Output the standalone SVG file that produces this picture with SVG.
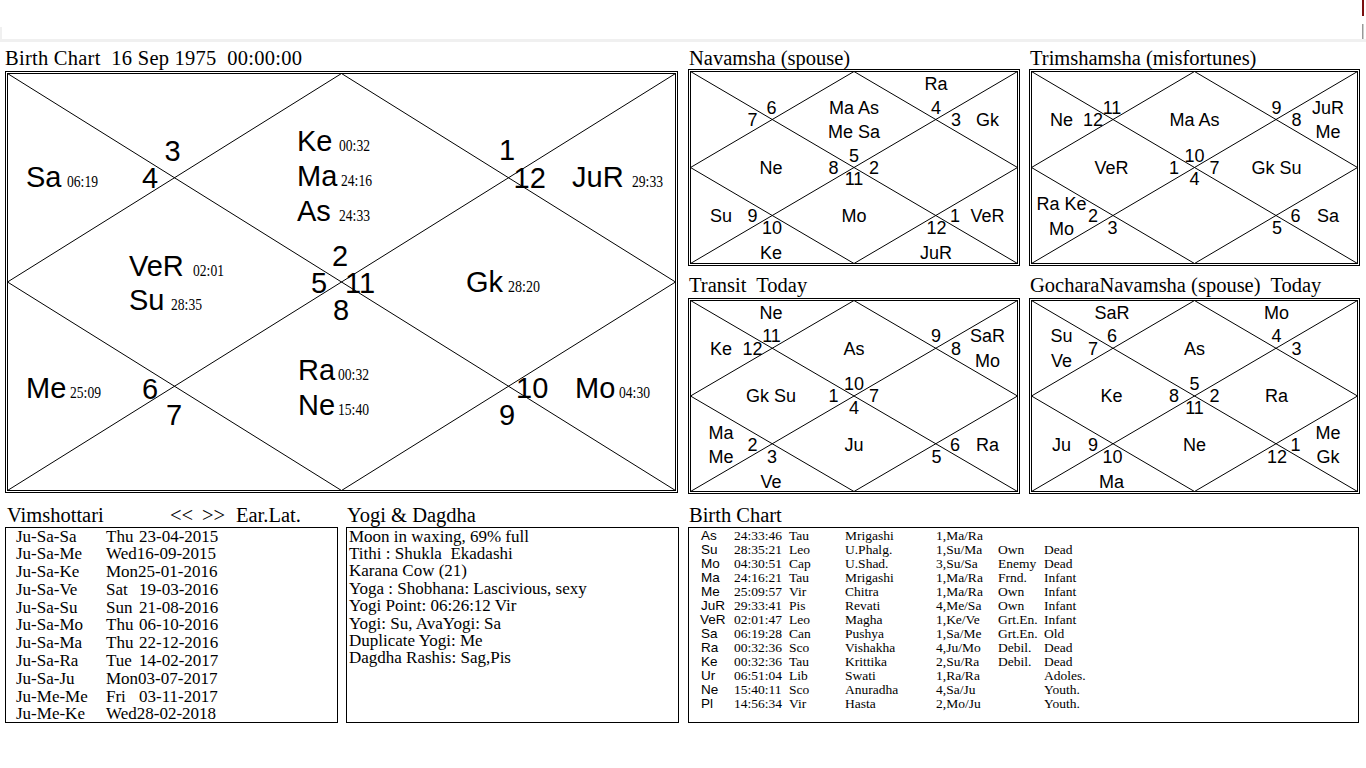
<svg xmlns="http://www.w3.org/2000/svg" width="1366" height="768" viewBox="0 0 1366 768">
<style>
.ttl{font-family:"Liberation Serif","Times New Roman",serif;font-size:20.5px;fill:#000;white-space:pre}
.big{font-family:"Liberation Sans",Arial,sans-serif;font-size:29px;fill:#000}
.deg{font-family:"Liberation Serif","Times New Roman",serif;font-size:17px;fill:#000}
.sm{font-family:"Liberation Sans",Arial,sans-serif;font-size:18px;fill:#000;text-anchor:middle}
.row{font-family:"Liberation Serif","Times New Roman",serif;font-size:17px;fill:#000;white-space:pre}
.tb{font-family:"Liberation Serif","Times New Roman",serif;font-size:13.5px;fill:#000}
.tbs{font-family:"Liberation Sans",Arial,sans-serif;font-size:13.5px;fill:#000}
.ln{stroke:#000;stroke-width:1;fill:none}
.box{stroke:#000;stroke-width:1;fill:none}
</style>
<rect x="0" y="0" width="1366" height="768" fill="#fff"/>
<g id="topbar">
<rect x="0" y="39" width="1366" height="3" fill="#f0f0f0"/>
<rect x="0" y="27" width="2" height="12" fill="#f0f0f0"/>
<rect x="1362" y="0" width="2" height="16" fill="#7a1010"/>
<rect x="1362" y="24" width="1.5" height="15" fill="#999"/>
</g>

<!-- Titles -->
<g id="titles">
<text class="ttl" x="5" y="65" xml:space="preserve" textLength="297" lengthAdjust="spacing">Birth Chart  16 Sep 1975  00:00:00</text>
<text class="ttl" x="689" y="65">Navamsha (spouse)</text>
<text class="ttl" x="1030" y="65">Trimshamsha (misfortunes)</text>
<text class="ttl" x="689" y="292" xml:space="preserve">Transit  Today</text>
<text class="ttl" x="1030" y="292" xml:space="preserve">GocharaNavamsha (spouse)  Today</text>
<text class="ttl" x="7" y="521.5">Vimshottari</text>
<text class="ttl" x="170" y="521.5">&lt;&lt;</text>
<text class="ttl" x="202" y="521.5">&gt;&gt;</text>
<text class="ttl" x="236" y="521.5">Ear.Lat.</text>
<text class="ttl" x="347" y="521.5">Yogi &amp; Dagdha</text>
<text class="ttl" x="689" y="521.5">Birth Chart</text>
</g>

<!-- Connectors: chart frame lines -->
<g id="connectors">
<rect class="box" x="5.5" y="71.5" width="672" height="421"/>
<rect class="box" x="7.5" y="73.5" width="668" height="417"/>
<path class="ln" d="M7.5 73.5L675.5 490.5M675.5 73.5L7.5 490.5M341.5 73.5L675.5 282L341.5 490.5L7.5 282Z"/>
<rect class="box" x="688.5" y="69.5" width="331" height="196"/>
<rect class="box" x="690.5" y="71.5" width="327" height="192"/>
<path class="ln" d="M690.5 71.5L1017.5 263.5M1017.5 71.5L690.5 263.5M854 71.5L1017.5 167.5L854 263.5L690.5 167.5Z"/>
<rect class="box" x="1029.5" y="69.5" width="330" height="196"/>
<rect class="box" x="1031.5" y="71.5" width="326" height="192"/>
<path class="ln" d="M1031.5 71.5L1357.5 263.5M1357.5 71.5L1031.5 263.5M1194.5 71.5L1357.5 167.5L1194.5 263.5L1031.5 167.5Z"/>
<rect class="box" x="688.5" y="298.5" width="331" height="195"/>
<rect class="box" x="690.5" y="300.5" width="327" height="191"/>
<path class="ln" d="M690.5 300.5L1017.5 491.5M1017.5 300.5L690.5 491.5M854 300.5L1017.5 396L854 491.5L690.5 396Z"/>
<rect class="box" x="1029.5" y="298.5" width="330" height="195"/>
<rect class="box" x="1031.5" y="300.5" width="326" height="191"/>
<path class="ln" d="M1031.5 300.5L1357.5 491.5M1357.5 300.5L1031.5 491.5M1194.5 300.5L1357.5 396L1194.5 491.5L1031.5 396Z"/>
<rect class="box" x="5.5" y="527.5" width="332" height="195"/>
<rect class="box" x="346.5" y="527.5" width="332" height="195"/>
<rect class="box" x="688.5" y="527.5" width="670" height="195"/>
</g>

<!-- Main birth chart -->
<g id="main-chart">
<text class="big" x="164.5" y="161">3</text>
<text class="big" x="142" y="188">4</text>
<text class="big" x="332" y="266">2</text>
<text class="big" x="311" y="293">5</text>
<text class="big" x="345" y="293">11</text>
<text class="big" x="333" y="320">8</text>
<text class="big" x="499" y="160">1</text>
<text class="big" x="513.5" y="188">12</text>
<text class="big" x="142" y="399">6</text>
<text class="big" x="166" y="425">7</text>
<text class="big" x="516" y="398">10</text>
<text class="big" x="499" y="425">9</text>

<text class="big" x="26" y="187">Sa</text><text class="deg" x="67" y="187" textLength="31" lengthAdjust="spacingAndGlyphs">06:19</text>
<text class="big" x="297" y="151">Ke</text><text class="deg" x="339" y="151" textLength="31" lengthAdjust="spacingAndGlyphs">00:32</text>
<text class="big" x="297" y="186">Ma</text><text class="deg" x="341" y="186" textLength="31" lengthAdjust="spacingAndGlyphs">24:16</text>
<text class="big" x="297" y="221">As</text><text class="deg" x="339" y="221" textLength="31" lengthAdjust="spacingAndGlyphs">24:33</text>
<text class="big" x="572" y="187">JuR</text><text class="deg" x="632" y="187" textLength="31" lengthAdjust="spacingAndGlyphs">29:33</text>
<text class="big" x="129" y="276">VeR</text><text class="deg" x="193" y="276" textLength="31" lengthAdjust="spacingAndGlyphs">02:01</text>
<text class="big" x="129" y="310">Su</text><text class="deg" x="171" y="310" textLength="31" lengthAdjust="spacingAndGlyphs">28:35</text>
<text class="big" x="466" y="292">Gk</text><text class="deg" x="508" y="292" textLength="32" lengthAdjust="spacingAndGlyphs">28:20</text>
<text class="big" x="26" y="398">Me</text><text class="deg" x="70" y="398" textLength="31" lengthAdjust="spacingAndGlyphs">25:09</text>
<text class="big" x="298" y="380">Ra</text><text class="deg" x="338" y="380" textLength="31" lengthAdjust="spacingAndGlyphs">00:32</text>
<text class="big" x="298" y="415">Ne</text><text class="deg" x="338" y="415" textLength="31" lengthAdjust="spacingAndGlyphs">15:40</text>
<text class="big" x="575" y="398">Mo</text><text class="deg" x="619" y="398" textLength="31" lengthAdjust="spacingAndGlyphs">04:30</text>
</g>

<!-- Navamsha -->
<g id="navamsha">
<text class="sm" x="854" y="161.5">5</text>
<text class="sm" x="771.5" y="113.5">6</text>
<text class="sm" x="752.5" y="126">7</text>
<text class="sm" x="833.5" y="173.5">8</text>
<text class="sm" x="752.5" y="222">9</text>
<text class="sm" x="772" y="234">10</text>
<text class="sm" x="854" y="185">11</text>
<text class="sm" x="936.5" y="234">12</text>
<text class="sm" x="955" y="222">1</text>
<text class="sm" x="874" y="173.5">2</text>
<text class="sm" x="956" y="126">3</text>
<text class="sm" x="936" y="113.5">4</text>
<text class="sm" x="854" y="113.5">Ma As</text>
<text class="sm" x="854" y="138">Me Sa</text>
<text class="sm" x="771" y="173.5">Ne</text>
<text class="sm" x="721" y="222">Su</text>
<text class="sm" x="771" y="259">Ke</text>
<text class="sm" x="854" y="222">Mo</text>
<text class="sm" x="936" y="259">JuR</text>
<text class="sm" x="987.5" y="222">VeR</text>
<text class="sm" x="987.5" y="126">Gk</text>
<text class="sm" x="936" y="90">Ra</text>
</g>

<!-- Trimshamsha -->
<g id="trimshamsha">
<text class="sm" x="1194.5" y="161.5">10</text>
<text class="sm" x="1112" y="113.5">11</text>
<text class="sm" x="1093" y="126">12</text>
<text class="sm" x="1174" y="173.5">1</text>
<text class="sm" x="1093" y="222">2</text>
<text class="sm" x="1112.5" y="234">3</text>
<text class="sm" x="1194.5" y="185">4</text>
<text class="sm" x="1277" y="234">5</text>
<text class="sm" x="1295.5" y="222">6</text>
<text class="sm" x="1214.5" y="173.5">7</text>
<text class="sm" x="1296.5" y="126">8</text>
<text class="sm" x="1276.5" y="113.5">9</text>
<text class="sm" x="1194.5" y="126">Ma As</text>
<text class="sm" x="1061.5" y="126">Ne</text>
<text class="sm" x="1111.5" y="173.5">VeR</text>
<text class="sm" x="1061.5" y="210">Ra Ke</text>
<text class="sm" x="1061.5" y="234.5">Mo</text>
<text class="sm" x="1328" y="222">Sa</text>
<text class="sm" x="1276.5" y="173.5">Gk Su</text>
<text class="sm" x="1328" y="113.5">JuR</text>
<text class="sm" x="1328" y="138">Me</text>
</g>

<!-- Transit -->
<g id="transit">
<text class="sm" x="854" y="390">10</text>
<text class="sm" x="771.5" y="342">11</text>
<text class="sm" x="752.5" y="354.5">12</text>
<text class="sm" x="833.5" y="402">1</text>
<text class="sm" x="752.5" y="450.5">2</text>
<text class="sm" x="772" y="462.5">3</text>
<text class="sm" x="854" y="413.5">4</text>
<text class="sm" x="936.5" y="462.5">5</text>
<text class="sm" x="955" y="450.5">6</text>
<text class="sm" x="874" y="402">7</text>
<text class="sm" x="956" y="354.5">8</text>
<text class="sm" x="936" y="342">9</text>
<text class="sm" x="854" y="354.5">As</text>
<text class="sm" x="771" y="318.5">Ne</text>
<text class="sm" x="721" y="354.5">Ke</text>
<text class="sm" x="771" y="402">Gk Su</text>
<text class="sm" x="721" y="438.5">Ma</text>
<text class="sm" x="721" y="463">Me</text>
<text class="sm" x="771" y="487.5">Ve</text>
<text class="sm" x="854" y="450.5">Ju</text>
<text class="sm" x="987.5" y="450.5">Ra</text>
<text class="sm" x="987.5" y="342">SaR</text>
<text class="sm" x="987.5" y="366.5">Mo</text>
</g>

<!-- GocharaNavamsha -->
<g id="gochara">
<text class="sm" x="1194.5" y="390">5</text>
<text class="sm" x="1112" y="342">6</text>
<text class="sm" x="1093" y="354.5">7</text>
<text class="sm" x="1174" y="402">8</text>
<text class="sm" x="1093" y="450.5">9</text>
<text class="sm" x="1112.5" y="462.5">10</text>
<text class="sm" x="1194.5" y="413.5">11</text>
<text class="sm" x="1277" y="462.5">12</text>
<text class="sm" x="1295.5" y="450.5">1</text>
<text class="sm" x="1214.5" y="402">2</text>
<text class="sm" x="1296.5" y="354.5">3</text>
<text class="sm" x="1276.5" y="342">4</text>
<text class="sm" x="1194.5" y="354.5">As</text>
<text class="sm" x="1112" y="318.5">SaR</text>
<text class="sm" x="1061.5" y="342">Su</text>
<text class="sm" x="1061.5" y="366.5">Ve</text>
<text class="sm" x="1111.5" y="402">Ke</text>
<text class="sm" x="1061.5" y="450.5">Ju</text>
<text class="sm" x="1111.5" y="487.5">Ma</text>
<text class="sm" x="1194.5" y="450.5">Ne</text>
<text class="sm" x="1328" y="438.5">Me</text>
<text class="sm" x="1328" y="463">Gk</text>
<text class="sm" x="1276.5" y="402">Ra</text>
<text class="sm" x="1276.5" y="318.5">Mo</text>
</g>

<!-- Vimshottari -->
<g id="vimshottari">
<text class="row" x="16" y="541.5">Ju-Sa-Sa</text><text class="row" x="106" y="541.5">Thu</text><text class="row" x="139" y="541.5">23-04-2015</text>
<text class="row" x="16" y="559.3">Ju-Sa-Me</text><text class="row" x="106" y="559.3">Wed16-09-2015</text>
<text class="row" x="16" y="577.1">Ju-Sa-Ke</text><text class="row" x="106" y="577.1">Mon25-01-2016</text>
<text class="row" x="16" y="594.8">Ju-Sa-Ve</text><text class="row" x="106" y="594.8">Sat</text><text class="row" x="139" y="594.8">19-03-2016</text>
<text class="row" x="16" y="612.6">Ju-Sa-Su</text><text class="row" x="106" y="612.6">Sun</text><text class="row" x="139" y="612.6">21-08-2016</text>
<text class="row" x="16" y="630.4">Ju-Sa-Mo</text><text class="row" x="106" y="630.4">Thu</text><text class="row" x="139" y="630.4">06-10-2016</text>
<text class="row" x="16" y="648.2">Ju-Sa-Ma</text><text class="row" x="106" y="648.2">Thu</text><text class="row" x="139" y="648.2">22-12-2016</text>
<text class="row" x="16" y="666">Ju-Sa-Ra</text><text class="row" x="106" y="666">Tue</text><text class="row" x="139" y="666">14-02-2017</text>
<text class="row" x="16" y="683.7">Ju-Sa-Ju</text><text class="row" x="106" y="683.7">Mon03-07-2017</text>
<text class="row" x="16" y="701.5">Ju-Me-Me</text><text class="row" x="106" y="701.5">Fri</text><text class="row" x="139" y="701.5">03-11-2017</text>
<text class="row" x="16" y="719.3">Ju-Me-Ke</text><text class="row" x="106" y="719.3">Wed28-02-2018</text>
</g>

<!-- Yogi & Dagdha -->
<g id="yogi">
<text class="row" x="349" y="541.5">Moon in waxing, 69% full</text>
<text class="row" x="349" y="558.9" xml:space="preserve">Tithi : Shukla  Ekadashi</text>
<text class="row" x="349" y="576.3">Karana Cow (21)</text>
<text class="row" x="349" y="593.7">Yoga : Shobhana: Lascivious, sexy</text>
<text class="row" x="349" y="611.1">Yogi Point: 06:26:12 Vir</text>
<text class="row" x="349" y="628.5">Yogi: Su, AvaYogi: Sa</text>
<text class="row" x="349" y="645.9">Duplicate Yogi: Me</text>
<text class="row" x="349" y="663.3">Dagdha Rashis: Sag,Pis</text>
</g>

<!-- Birth chart table -->
<g id="table">
<g class="tbs">
<text x="701" y="540">As</text>
<text x="701" y="554">Su</text>
<text x="701" y="568">Mo</text>
<text x="701" y="581.9">Ma</text>
<text x="701" y="595.9">Me</text>
<text x="701" y="609.9">JuR</text>
<text x="700" y="623.8">VeR</text>
<text x="701" y="637.8">Sa</text>
<text x="701" y="651.8">Ra</text>
<text x="701" y="665.7">Ke</text>
<text x="701" y="679.7">Ur</text>
<text x="701" y="693.7">Ne</text>
<text x="701" y="707.6">Pl</text>
</g>
<g class="tb">
<text x="734" y="540">24:33:46</text><text x="789" y="540">Tau</text><text x="845" y="540">Mrigashi</text><text x="936" y="540">1,Ma/Ra</text>
<text x="734" y="554">28:35:21</text><text x="789" y="554">Leo</text><text x="845" y="554">U.Phalg.</text><text x="936" y="554">1,Su/Ma</text><text x="998" y="554">Own</text><text x="1044" y="554">Dead</text>
<text x="734" y="568">04:30:51</text><text x="789" y="568">Cap</text><text x="845" y="568">U.Shad.</text><text x="936" y="568">3,Su/Sa</text><text x="998" y="568">Enemy</text><text x="1044" y="568">Dead</text>
<text x="734" y="581.9">24:16:21</text><text x="789" y="581.9">Tau</text><text x="845" y="581.9">Mrigashi</text><text x="936" y="581.9">1,Ma/Ra</text><text x="998" y="581.9">Frnd.</text><text x="1044" y="581.9">Infant</text>
<text x="734" y="595.9">25:09:57</text><text x="789" y="595.9">Vir</text><text x="845" y="595.9">Chitra</text><text x="936" y="595.9">1,Ma/Ra</text><text x="998" y="595.9">Own</text><text x="1044" y="595.9">Infant</text>
<text x="734" y="609.9">29:33:41</text><text x="789" y="609.9">Pis</text><text x="845" y="609.9">Revati</text><text x="936" y="609.9">4,Me/Sa</text><text x="998" y="609.9">Own</text><text x="1044" y="609.9">Infant</text>
<text x="734" y="623.8">02:01:47</text><text x="789" y="623.8">Leo</text><text x="845" y="623.8">Magha</text><text x="936" y="623.8">1,Ke/Ve</text><text x="998" y="623.8">Grt.En.</text><text x="1044" y="623.8">Infant</text>
<text x="734" y="637.8">06:19:28</text><text x="789" y="637.8">Can</text><text x="845" y="637.8">Pushya</text><text x="936" y="637.8">1,Sa/Me</text><text x="998" y="637.8">Grt.En.</text><text x="1044" y="637.8">Old</text>
<text x="734" y="651.8">00:32:36</text><text x="789" y="651.8">Sco</text><text x="845" y="651.8">Vishakha</text><text x="936" y="651.8">4,Ju/Mo</text><text x="998" y="651.8">Debil.</text><text x="1044" y="651.8">Dead</text>
<text x="734" y="665.7">00:32:36</text><text x="789" y="665.7">Tau</text><text x="845" y="665.7">Krittika</text><text x="936" y="665.7">2,Su/Ra</text><text x="998" y="665.7">Debil.</text><text x="1044" y="665.7">Dead</text>
<text x="734" y="679.7">06:51:04</text><text x="789" y="679.7">Lib</text><text x="845" y="679.7">Swati</text><text x="936" y="679.7">1,Ra/Ra</text><text x="1044" y="679.7">Adoles.</text>
<text x="734" y="693.7">15:40:11</text><text x="789" y="693.7">Sco</text><text x="845" y="693.7">Anuradha</text><text x="936" y="693.7">4,Sa/Ju</text><text x="1044" y="693.7">Youth.</text>
<text x="734" y="707.6">14:56:34</text><text x="789" y="707.6">Vir</text><text x="845" y="707.6">Hasta</text><text x="936" y="707.6">2,Mo/Ju</text><text x="1044" y="707.6">Youth.</text>
</g>
</g>
</svg>
